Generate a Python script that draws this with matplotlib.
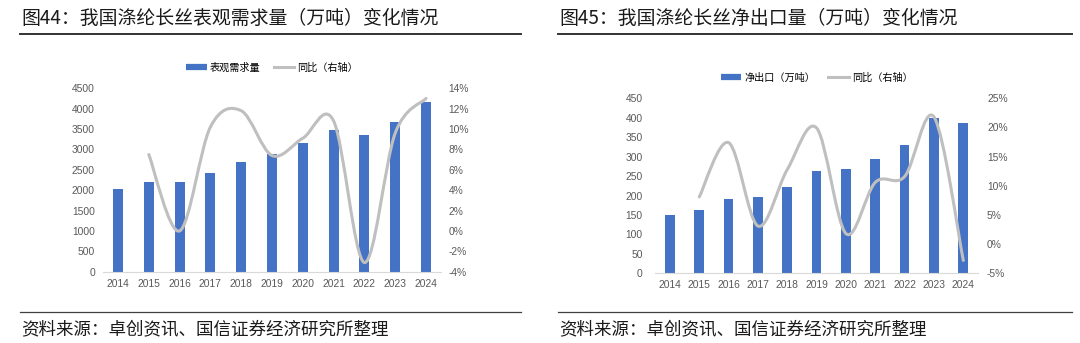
"""
plot.py

Two side-by-side Excel-style combo charts: bars on the left axis,
smoothed YoY line on the right axis, with report-style title and source.
"""

import numpy as np
import matplotlib
matplotlib.use("Agg")
import matplotlib.pyplot as plt
from matplotlib.path import Path
from matplotlib.patches import PathPatch
from matplotlib.lines import Line2D

#####################################
# Data
#####################################

years = ["2014", "2015", "2016", "2017", "2018", "2019",
         "2020", "2021", "2022", "2023", "2024"]

# apparent demand (10k tonnes) and YoY (%)
demand = [2030, 2193, 2190, 2414, 2691, 2888, 3158, 3477, 3362, 3681, 4156]
demand_yoy = [None, 7.5, 0.0, 10.2, 11.8, 7.4, 9.1, 10.8, -3.1, 9.6, 13.0]

# net export (10k tonnes) and YoY (%)
net_export = [150, 163, 190, 195, 221, 263, 268, 295, 329, 400, 387]
export_yoy = [None, 8.1, 17.4, 3.1, 12.8, 19.9, 1.8, 10.6, 11.6, 21.8, -2.8]

left_title = "图44：我国涤纶长丝表观需求量（万吨）变化情况"
right_title = "图45：我国涤纶长丝净出口量（万吨）变化情况"
source_text = "资料来源：卓创资讯、国信证券经济研究所整理"

#####################################
# Style
#####################################

CJK = ["Noto Sans CJK SC", "DejaVu Sans"]
NUM = ["Liberation Sans", "Noto Sans CJK SC"]
BAR_COLOR = "#4472C4"
LINE_COLOR = "#BFBFBF"
TICK_COLOR = "#595959"
DPI = 100

plt.rcParams["font.family"] = NUM


def smooth_path(xs, ys):
    """Excel-like smoothed line: Catmull-Rom converted to cubic Bezier segments."""
    pts = np.column_stack([xs, ys]).astype(float)
    n = len(pts)
    verts = [pts[0]]
    codes = [Path.MOVETO]
    for i in range(n - 1):
        p0 = pts[i - 1] if i > 0 else pts[i]
        p1 = pts[i]
        p2 = pts[i + 1]
        p3 = pts[i + 2] if i + 2 < n else pts[i + 1]
        c1 = p1 + (p2 - p0) / 6.0
        c2 = p2 - (p3 - p1) / 6.0
        verts += [c1, c2, p2]
        codes += [Path.CURVE4] * 3
    return Path(verts, codes)


def px(x0, y0, x1, y1):
    """pixel box (top-left origin) -> figure axes rect"""
    W, H = 1080, 343
    return [x0 / W, 1 - y1 / H, (x1 - x0) / W, (y1 - y0) / H]


def combo(fig, rect, bars, yoy, bar_label, ylim, yticks, rlim, rticks,
          lpad, rpad, legend_y):
    ax = fig.add_axes(rect)
    x = np.arange(len(years))
    ax.bar(x, bars, width=0.33, color=BAR_COLOR, zorder=2)
    ax.set_xlim(-0.5, len(years) - 0.5)
    ax.set_ylim(*ylim)
    ax.set_yticks(yticks)
    ax.set_xticks(x)
    ax.set_xticklabels(years)
    for s in ["top", "right", "left"]:
        ax.spines[s].set_visible(False)
    ax.spines["bottom"].set_color("#D9D9D9")
    ax.spines["bottom"].set_linewidth(0.8)
    ax.tick_params(axis="both", length=0, labelsize=7.4, labelcolor=TICK_COLOR)
    ax.tick_params(axis="y", pad=lpad)
    ax.tick_params(axis="x", pad=5)

    ax2 = ax.twinx()
    ax2.set_ylim(*rlim)
    ax2.set_yticks(rticks)
    ax2.set_yticklabels([f"{t}%" for t in rticks])
    for s in ax2.spines.values():
        s.set_visible(False)
    ax2.tick_params(axis="y", length=0, labelsize=7.4, labelcolor=TICK_COLOR, pad=rpad)

    xs = [i for i, v in enumerate(yoy) if v is not None]
    ys = [v for v in yoy if v is not None]
    patch = PathPatch(smooth_path(xs, ys), facecolor="none", edgecolor=LINE_COLOR,
                      linewidth=2.2, capstyle="round", zorder=3)
    ax2.add_patch(patch)

    handles = [Line2D([], [], color=BAR_COLOR, linewidth=4.5, solid_capstyle="butt"),
               Line2D([], [], color=LINE_COLOR, linewidth=2.2)]
    fig.legend(handles, [bar_label, "同比（右轴）"], loc="center",
               bbox_to_anchor=(rect[0] + rect[2] / 2, legend_y), ncol=2,
               frameon=False, prop={"family": CJK, "size": 7.3},
               handlelength=2.0, handletextpad=0.3, columnspacing=1.3)
    return ax


fig = plt.figure(figsize=(10.8, 3.43), dpi=DPI)

combo(fig, px(102.6, 88.3, 441.4, 271.7), demand, demand_yoy, "表观需求量",
      (0, 4500), range(0, 4501, 500), (-4, 14), list(range(-4, 15, 2)),
      5.5, 5, 1 - 67.7 / 343)

combo(fig, px(655.3, 98.3, 978, 273.3), net_export, export_yoy, "净出口（万吨）",
      (0, 450), range(0, 451, 50), (-5, 25), list(range(-5, 26, 5)),
      9, 6.5, 1 - 77.7 / 343)

# titles, underlines and source notes
for x0, x1, title in [(20, 520.7, left_title), (557.7, 1071.7, right_title)]:
    fig.text(x0 / 1080 + 0.0015, 1 - 18 / 343, title, family=CJK, fontsize=13.6,
             color="#1a1a1a", va="center", ha="left")
    fig.add_artist(Line2D([x0 / 1080, x1 / 1080], [1 - 34.3 / 343] * 2,
                          color="#333333", linewidth=1.4))
    fig.add_artist(Line2D([x0 / 1080, x1 / 1080], [1 - 311.7 / 343] * 2,
                          color="#404040", linewidth=0.9))
    fig.text(x0 / 1080 + 0.0015, 1 - 329.5 / 343, source_text, family=CJK,
             fontsize=12.6, color="#1a1a1a", va="center", ha="left")

fig.savefig("out.png", dpi=DPI)
